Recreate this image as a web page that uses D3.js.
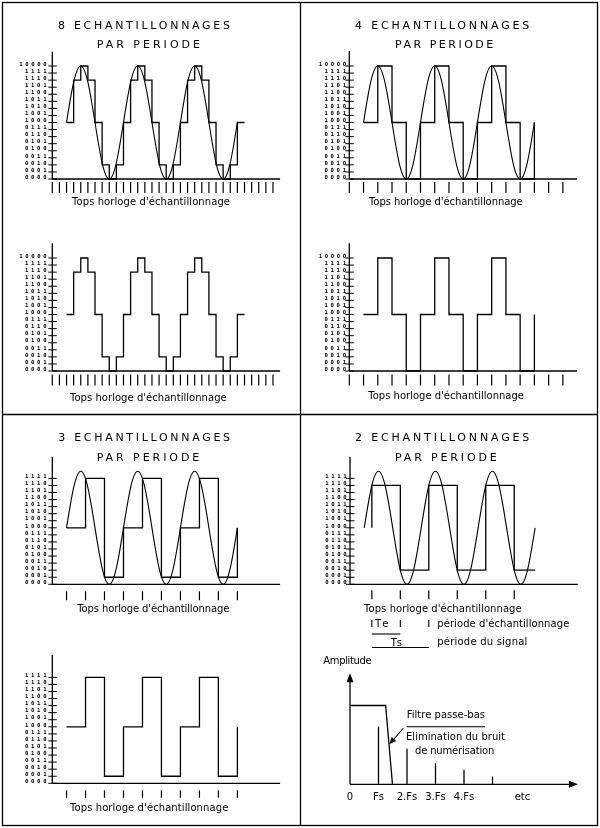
<!DOCTYPE html>
<html><head><meta charset="utf-8">
<script src="https://cdn.jsdelivr.net/npm/d3@7"></script>
<style>body{margin:0;background:#fff}svg{display:block;will-change:transform}</style>
</head><body>
<script>
// ---------------- DATA ----------------
// time unit: eighth of a signal period (finest clock); levels: 0..16 quantisation steps
const analogTime  = [2,3,4,5,6,7,8,9,10,11,12,13,14,15,16,17,18,19,20,21,22,23,24,25,26];
const analogLevel = [8,13.7,16,13.7,8,2.3,0,2.3, 8,13.7,16,13.7,8,2.3,0,2.3, 8,13.7,16,13.7,8,2.3,0,2.3, 8];

const clock8 = [0,1,2,3,4,5,6,7,8,9,10,11,12,13,14,15,16,17,18,19,20,21,22,23,24,25,26,27,28,29,30,31];
const clock4 = [0,2,4,6,8,10,12,14,16,18,20,22,24,26,28,30];
const clock3 = [2,4.67,7.33,10,12.67,15.33,18,20.67,23.33,26];
const clock2 = [3.07,7.07,11.07,15.07,19.07,23.07];

const steps8Time  = [2,3,4,5,6,7,8,9,10,11,12,13,14,15,16,17,18,19,20,21,22,23,24,25,26,27];
const steps8Level = [8,14,16,14,8,2,0,2, 8,14,16,14,8,2,0,2, 8,14,16,14,8,2,0,2, 8,8];
const steps4Time  = [2,4,6,8,10,12,14,16,18,20,22,24,26];
const steps4Level = [8,16,8,0, 8,16,8,0, 8,16,8,0, 8];
const steps3Time  = clock3;
const steps3Level = [8,15,1, 8,15,1, 8,15,1, 8];
const steps2Time  = [3.07,3.07,7.07,11.07,15.07,19.07,23.07,26];
const steps2Level = [8,14,2,14,2,14,2,2];

const codes17 = ["0000","0001","0010","0011","0100","0101","0110","0111","1000","1001","1010","1011","1100","1101","1110","1111","10000"];
const codes16 = ["0000","0001","0010","0011","0100","0101","0110","0111","1000","1001","1010","1011","1100","1101","1110","1111"];

const titleCounts = ["8","4","3","2"];
const titleWord = "ECHANTILLONNAGES";
const titleSub = "PAR PERIODE";
const caption = "Tops horloge d'échantillonnage";

// spectrum
const specLabels = ["0","Fs","2.Fs","3.Fs","4.Fs"];
const specLabelPos = [0,1,2,3,4];
const lineFreq = [1,2,3,4,5];
const lineAmp  = [0.52,0.32,0.19,0.13,0.07];
const filterFreq = [0,1.25,1.49];
const filterAmp  = [0.71,0.71,0];

// ---------------- DRAW ----------------
const svg = d3.select("body").append("svg").attr("width",600).attr("height",828);
const ink = "#000";
const FONT = "DejaVu Sans, Liberation Sans, sans-serif";

// frame
svg.append("rect").attr("x",2.5).attr("y",2.5).attr("width",595).attr("height",823)
  .attr("fill","none").attr("stroke",ink).attr("stroke-width",1.3);
svg.append("line").attr("x1",300.5).attr("x2",300.5).attr("y1",2.5).attr("y2",825.5).attr("stroke",ink).attr("stroke-width",1.3);
svg.append("line").attr("x1",2.5).attr("x2",597.5).attr("y1",414.5).attr("y2",414.5).attr("stroke",ink).attr("stroke-width",1.3);

function fitText(g, str, x0, x1, y, size, family){
  return g.append("text").attr("x",x0).attr("y",y).attr("font-family",family||FONT).attr("font-size",size)
    .attr("fill",ink).attr("textLength",x1-x0).attr("lengthAdjust","spacing").text(str);
}

const panels = [
  {ax:52.3, base:179, top:51.7, gap:5.5, clock:clock8, tk:[3,14], codes:codes17, sine:true, st:[steps8Time,steps8Level], cap:[72,230,205]},
  {ax:349.3, base:179, top:51, gap:3, clock:clock4, tk:[3,14], codes:codes17, sine:true, st:[steps4Time,steps4Level], cap:[369,522.7,205]},
  {ax:52.3, base:371, top:243.3, gap:5.5, clock:clock8, tk:[3.5,14.5], codes:codes17, sine:false, st:[steps8Time,steps8Level], cap:[70,226.7,400.5]},
  {ax:349.3, base:371, top:243.3, gap:3, clock:clock4, tk:[3.5,14.5], codes:codes17, sine:false, st:[steps4Time,steps4Level], cap:[368.3,524,398.5]},
  {ax:52.3, base:584.3, top:456.7, gap:5.5, clock:clock3, tk:[7,16], codes:codes16, sine:true, st:[steps3Time,steps3Level], cap:[77.3,229.3,612]},
  {ax:350, base:584.3, top:456.7, gap:3, clock:clock2, tk:[6,15], codes:codes16, sine:true, st:[steps2Time,steps2Level], cap:[364,521.7,611.5]},
  {ax:52.3, base:783.3, top:655, gap:5.5, clock:clock3, tk:[7,14.5], codes:codes16, sine:false, st:[steps3Time,steps3Level], cap:[70,228.3,810.5]}
];

panels.forEach(p=>{
  const g = svg.append("g");
  const x = d3.scaleLinear().domain([0,32]).range([p.ax, p.ax+227.8]);
  const y = d3.scaleLinear().domain([0,16]).range([p.base, p.base-113]);
  // axes
  g.append("line").attr("x1",p.ax).attr("x2",p.ax+227.8).attr("y1",p.base).attr("y2",p.base).attr("stroke",ink).attr("stroke-width",1.3);
  g.append("line").attr("x1",p.ax).attr("x2",p.ax).attr("y1",p.base).attr("y2",p.top).attr("stroke",ink).attr("stroke-width",1.3);
  // level ticks + codes
  const lv = d3.range(p.codes.length);
  g.selectAll(".yt").data(lv).join("line").attr("x1",p.ax-4).attr("x2",p.ax+4.5)
    .attr("y1",d=>y(d)).attr("y2",d=>y(d)).attr("stroke",ink).attr("stroke-width",1);
  g.selectAll(".yl").data(lv).join("text")
    .attr("x",d=>p.ax-p.gap-(p.codes[d].length*5.8-1.5))
    .attr("y",d=>y(d)-0.3)
    .attr("textLength",d=>p.codes[d].length*5.8-1.8).attr("lengthAdjust","spacing")
    .attr("font-family","DejaVu Sans Mono, monospace").attr("font-size",5.6).attr("font-weight","bold")
    .attr("fill",ink).text(d=>p.codes[d]);
  // clock ticks
  g.selectAll(".xt").data(p.clock).join("line").attr("x1",d=>x(d)).attr("x2",d=>x(d))
    .attr("y1",p.base+p.tk[0]).attr("y2",p.base+p.tk[1]).attr("stroke",ink).attr("stroke-width",1.2);
  // analog signal
  if(p.sine){
    const line = d3.line().x(d=>x(analogTime[d])).y(d=>y(analogLevel[d])).curve(d3.curveNatural);
    g.append("path").attr("d",line(d3.range(analogTime.length))).attr("fill","none").attr("stroke",ink).attr("stroke-width",1.1);
  }
  // sampled/held signal
  const sl = d3.line().x(d=>x(p.st[0][d])).y(d=>y(p.st[1][d])).curve(d3.curveStepAfter);
  g.append("path").attr("d",sl(d3.range(p.st[0].length))).attr("fill","none").attr("stroke",ink).attr("stroke-width",1.3);
  // caption
  fitText(g, caption, p.cap[0], p.cap[1], p.cap[2], 10);
});

// titles
const titlePos = [
  {a:[58,230,29], b:[96.7,200,48]},
  {a:[355,529.3,29], b:[395,493.3,48]},
  {a:[58.3,230,440.8], b:[96.7,199.3,460.8]},
  {a:[355,529.3,440.8], b:[395,496.7,460.8]}
];
titleCounts.forEach((c,i)=>{
  const t = titlePos[i];
  fitText(svg, c+" "+titleWord, t.a[0], t.a[1], t.a[2], 11);
  fitText(svg, titleSub, t.b[0], t.b[1], t.b[2], 11);
});

// Te / Ts annotation in the 2-sample panel
{
  const x = d3.scaleLinear().domain([0,32]).range([350, 350+227.8]);
  const g = svg.append("g");
  g.selectAll("line.te").data(clock2.slice(0,3)).join("line")
    .attr("x1",d=>x(d)).attr("x2",d=>x(d)).attr("y1",620).attr("y2",627).attr("stroke",ink).attr("stroke-width",1.1);
  fitText(g,"Te",375,388.5,627,10);
  fitText(g,"période d'échantillonnage",437.3,569.3,626.5,10);
  g.append("line").attr("x1",x(clock2[0])).attr("x2",x(clock2[1])).attr("y1",634).attr("y2",634).attr("stroke",ink).attr("stroke-width",1.1);
  fitText(g,"Ts",390.7,402,646,10);
  g.append("line").attr("x1",x(clock2[0])).attr("x2",x(clock2[2])).attr("y1",647.5).attr("y2",647.5).attr("stroke",ink).attr("stroke-width",1.1);
  fitText(g,"période du signal",437.3,527.3,644.5,10);
}

// spectrum panel
{
  const g = svg.append("g");
  const xs = d3.scaleLinear().domain([0,8]).range([350,578]);
  const ys = d3.scaleLinear().domain([0,1]).range([784.3,673.3]);
  g.append("line").attr("x1",xs(0)).attr("x2",xs(8)-4).attr("y1",ys(0)).attr("y2",ys(0)).attr("stroke",ink).attr("stroke-width",1.3);
  g.append("line").attr("x1",xs(0)).attr("x2",xs(0)).attr("y1",ys(0)).attr("y2",ys(1)+4).attr("stroke",ink).attr("stroke-width",1.3);
  g.append("path").attr("d",`M${xs(8)},${ys(0)} L${xs(8)-9},${ys(0)-3.5} L${xs(8)-9},${ys(0)+3.5} Z`).attr("fill",ink);
  g.append("path").attr("d",`M${xs(0)},${ys(1)} L${xs(0)-3.5},${ys(1)+9} L${xs(0)+3.5},${ys(1)+9} Z`).attr("fill",ink);
  // filter
  const fl = d3.line().x(d=>xs(filterFreq[d])).y(d=>ys(filterAmp[d]));
  g.append("path").attr("d",fl([0,1,2])).attr("fill","none").attr("stroke",ink).attr("stroke-width",1.3);
  // spectral lines
  g.selectAll("line.sp").data(d3.range(lineFreq.length)).join("line")
    .attr("x1",d=>xs(lineFreq[d])).attr("x2",d=>xs(lineFreq[d]))
    .attr("y1",ys(0)).attr("y2",d=>ys(lineAmp[d])).attr("stroke",ink).attr("stroke-width",1.3);
  // labels
  g.selectAll("text.sl").data(d3.range(specLabels.length)).join("text")
    .attr("x",d=>xs(specLabelPos[d])).attr("y",799.5).attr("text-anchor","middle")
    .attr("font-family",FONT).attr("font-size",10).attr("fill",ink).text(d=>specLabels[d]);
  g.append("text").attr("x",xs(6.05)).attr("y",799.5).attr("text-anchor","middle")
    .attr("font-family",FONT).attr("font-size",10).attr("fill",ink).text("etc");
  fitText(g,"Amplitude",323.3,371.7,664,10);
  fitText(g,"Filtre passe-bas",406.7,485,718,10);
  g.append("line").attr("x1",406.7).attr("x2",485).attr("y1",726.7).attr("y2",726.7).attr("stroke",ink).attr("stroke-width",1.1);
  fitText(g,"Elimination du bruit",406,505,739.5,10);
  fitText(g,"de numérisation",415,494.3,754,10);
  // pointer arrow to the filter slope
  const ax0 = xs(1.87), ay0 = ys(0.505), ax1 = xs(1.38), ay1 = ys(0.36);
  g.append("line").attr("x1",ax0).attr("y1",ay0).attr("x2",ax1+2).attr("y2",ay1-2.3).attr("stroke",ink).attr("stroke-width",1.1);
  const ang = Math.atan2(ay1-ay0, ax1-ax0);
  const L=7, Wd=3;
  const bx = ax1 - L*Math.cos(ang), by = ay1 - L*Math.sin(ang);
  g.append("path").attr("d",`M${ax1},${ay1} L${bx - Wd*Math.sin(ang)},${by + Wd*Math.cos(ang)} L${bx + Wd*Math.sin(ang)},${by - Wd*Math.cos(ang)} Z`).attr("fill",ink);
}
</script>
</body></html>
